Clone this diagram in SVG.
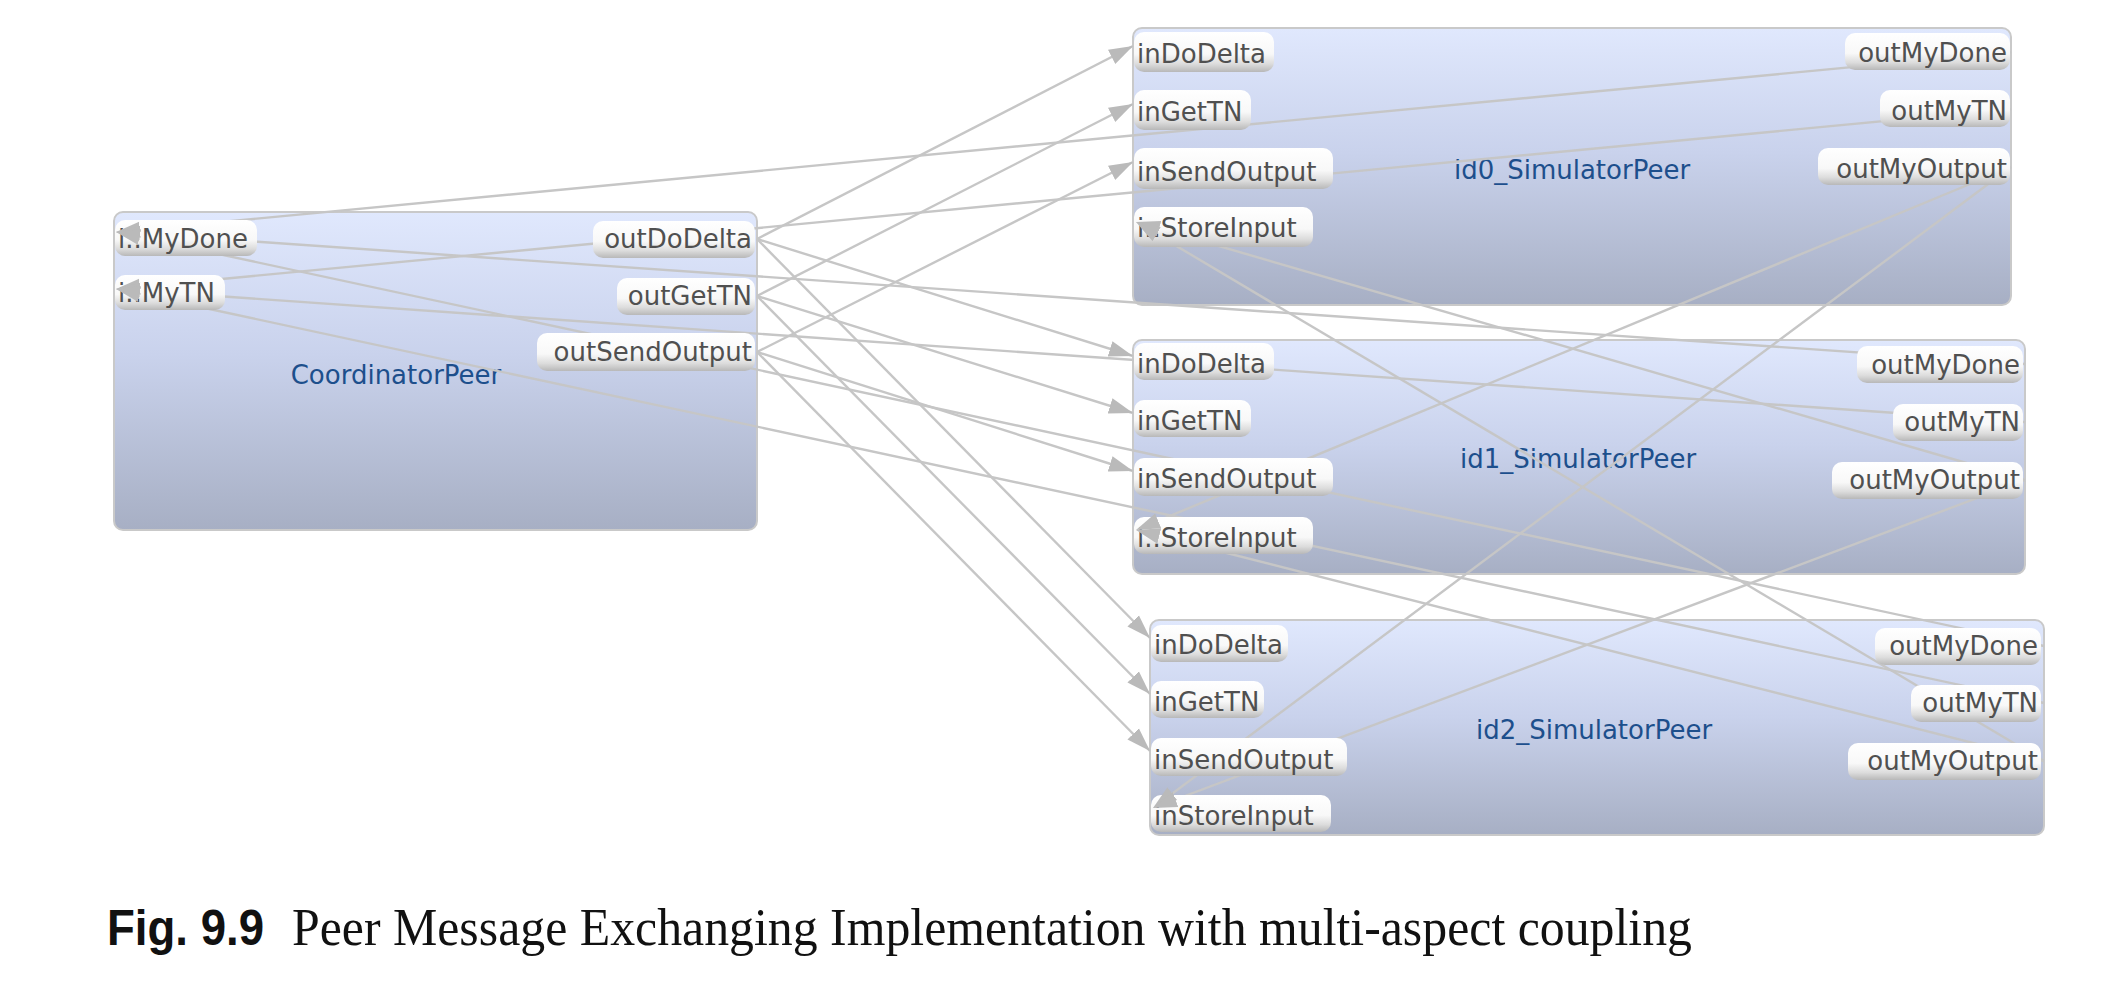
<svg xmlns="http://www.w3.org/2000/svg" width="2128" height="983" viewBox="0 0 2128 983">
<defs>
<linearGradient id="boxg" x1="0" y1="0" x2="0" y2="1">
<stop offset="0" stop-color="#e0e8fd"/>
<stop offset="0.45" stop-color="#c9d2ec"/>
<stop offset="1" stop-color="#a7afc4"/>
</linearGradient>
<linearGradient id="pillg" x1="0" y1="0" x2="0" y2="1">
<stop offset="0" stop-color="#ffffff"/>
<stop offset="0.55" stop-color="#f8f8f8"/>
<stop offset="0.8" stop-color="#dcdcdc"/>
<stop offset="1" stop-color="#b8b8b8"/>
</linearGradient>
<marker id="ah" markerUnits="userSpaceOnUse" markerWidth="26" markerHeight="18" refX="24" refY="9" orient="auto">
<path d="M0,1 L24,9 L0,17 z" fill="#bababa"/>
</marker>
</defs>
<style>
.box{fill:url(#boxg);stroke:#c9c9c9;stroke-width:2}
.title{font-family:"DejaVu Sans",Verdana,sans-serif;font-size:26px;fill:#1d4f8c;text-anchor:middle}
.pill{fill:url(#pillg)}
.pt{font-family:"DejaVu Sans",Verdana,sans-serif;font-size:26px;fill:#505050}
.r{text-anchor:end}
.ln{fill:none;stroke:#c6c6c6;stroke-width:2.4}
.hd{fill:none;stroke:none;marker-end:url(#ah)}
.cap{font-family:"Liberation Serif","Times New Roman",serif;font-size:53px;fill:#111}
.capb{font-family:"Liberation Sans",Arial,sans-serif;font-weight:bold;font-size:50px;fill:#111}
</style>
<rect width="2128" height="983" fill="#ffffff"/>

<g id="node-CoordinatorPeer">
<rect class="box" x="114" y="212" width="643" height="318" rx="9"/>
<text class="title" x="396" y="384">CoordinatorPeer</text>
</g>
<g id="node-id0_SimulatorPeer">
<rect class="box" x="1133" y="28" width="878" height="277" rx="9"/>
<text class="title" x="1572" y="179">id0_SimulatorPeer</text>
</g>
<g id="node-id1_SimulatorPeer">
<rect class="box" x="1133" y="340" width="892" height="234" rx="9"/>
<text class="title" x="1578" y="468">id1_SimulatorPeer</text>
</g>
<g id="node-id2_SimulatorPeer">
<rect class="box" x="1150" y="620" width="894" height="215" rx="9"/>
<text class="title" x="1594" y="739">id2_SimulatorPeer</text>
</g>

<g id="connectors">
<path class="ln" d="M757,239 L1133,46"/>
<path class="ln" d="M757,239 L1133,356"/>
<path class="ln" d="M757,239 L1150,638"/>
<path class="ln" d="M757,296 L1133,104"/>
<path class="ln" d="M757,296 L1133,413"/>
<path class="ln" d="M757,296 L1150,694"/>
<path class="ln" d="M757,352 L1133,162"/>
<path class="ln" d="M757,352 L1133,471"/>
<path class="ln" d="M757,352 L1150,751"/>
<path class="ln" d="M2011,52 L116,232"/>
<path class="ln" d="M2025,364 L116,232"/>
<path class="ln" d="M2044,646 L116,232"/>
<path class="ln" d="M2011,109 L116,289"/>
<path class="ln" d="M2025,422 L116,289"/>
<path class="ln" d="M2044,703 L116,289"/>
<path class="ln" d="M2011,167 L1136,530"/>
<path class="ln" d="M2011,167 L1153,808"/>
<path class="ln" d="M2025,480 L1136,222"/>
<path class="ln" d="M2025,480 L1153,808"/>
<path class="ln" d="M2044,761 L1136,222"/>
<path class="ln" d="M2044,761 L1136,530"/>
</g>

<g id="ports-CoordinatorPeer">
<rect class="pill" x="115" y="220" width="142" height="36" rx="10"/>
<text class="pt" x="118" y="248">i..MyDone</text>
<rect class="pill" x="115" y="275" width="110" height="35" rx="10"/>
<text class="pt" x="118" y="302">i..MyTN</text>
<rect class="pill" x="593" y="221" width="162" height="37" rx="10"/>
<text class="pt r" x="752" y="248">outDoDelta</text>
<rect class="pill" x="617" y="278" width="138" height="37" rx="10"/>
<text class="pt r" x="752" y="305">outGetTN</text>
<rect class="pill" x="537" y="333" width="218" height="38" rx="10"/>
<text class="pt r" x="752" y="361">outSendOutput</text>
</g>

<g id="ports-id0_SimulatorPeer">
<rect class="pill" x="1134" y="32" width="140" height="40" rx="10"/>
<text class="pt" x="1137" y="63">inDoDelta</text>
<rect class="pill" x="1134" y="90" width="117" height="40" rx="10"/>
<text class="pt" x="1137" y="121">inGetTN</text>
<rect class="pill" x="1134" y="148" width="199" height="41" rx="10"/>
<text class="pt" x="1137" y="181">inSendOutput</text>
<rect class="pill" x="1134" y="207" width="179" height="40" rx="10"/>
<text class="pt" x="1137" y="237">i..StoreInput</text>
<rect class="pill" x="1845" y="33" width="165" height="37" rx="10"/>
<text class="pt r" x="2007" y="62">outMyDone</text>
<rect class="pill" x="1880" y="90" width="130" height="37" rx="10"/>
<text class="pt r" x="2007" y="120">outMyTN</text>
<rect class="pill" x="1818" y="148" width="192" height="37" rx="10"/>
<text class="pt r" x="2007" y="178">outMyOutput</text>
</g>

<g id="ports-id1_SimulatorPeer">
<rect class="pill" x="1134" y="343" width="140" height="37" rx="10"/>
<text class="pt" x="1137" y="373">inDoDelta</text>
<rect class="pill" x="1134" y="400" width="117" height="37" rx="10"/>
<text class="pt" x="1137" y="430">inGetTN</text>
<rect class="pill" x="1134" y="458" width="199" height="38" rx="10"/>
<text class="pt" x="1137" y="488">inSendOutput</text>
<rect class="pill" x="1134" y="517" width="179" height="37" rx="10"/>
<text class="pt" x="1137" y="547">i..StoreInput</text>
<rect class="pill" x="1857" y="346" width="166" height="37" rx="10"/>
<text class="pt r" x="2020" y="374">outMyDone</text>
<rect class="pill" x="1893" y="404" width="130" height="37" rx="10"/>
<text class="pt r" x="2020" y="431">outMyTN</text>
<rect class="pill" x="1832" y="462" width="191" height="37" rx="10"/>
<text class="pt r" x="2020" y="489">outMyOutput</text>
</g>

<g id="ports-id2_SimulatorPeer">
<rect class="pill" x="1151" y="625" width="137" height="37" rx="10"/>
<text class="pt" x="1154" y="654">inDoDelta</text>
<rect class="pill" x="1151" y="681" width="113" height="37" rx="10"/>
<text class="pt" x="1154" y="711">inGetTN</text>
<rect class="pill" x="1151" y="738" width="196" height="38" rx="10"/>
<text class="pt" x="1154" y="769">inSendOutput</text>
<rect class="pill" x="1151" y="795" width="180" height="37" rx="10"/>
<text class="pt" x="1154" y="825">inStoreInput</text>
<rect class="pill" x="1875" y="628" width="166" height="37" rx="10"/>
<text class="pt r" x="2038" y="655">outMyDone</text>
<rect class="pill" x="1911" y="685" width="130" height="37" rx="10"/>
<text class="pt r" x="2038" y="712">outMyTN</text>
<rect class="pill" x="1848" y="743" width="193" height="37" rx="10"/>
<text class="pt r" x="2038" y="770">outMyOutput</text>
</g>

<g id="connector-arrowheads">
<path class="hd" d="M757,239 L1133,46"/>
<path class="hd" d="M757,239 L1133,356"/>
<path class="hd" d="M757,239 L1150,638"/>
<path class="hd" d="M757,296 L1133,104"/>
<path class="hd" d="M757,296 L1133,413"/>
<path class="hd" d="M757,296 L1150,694"/>
<path class="hd" d="M757,352 L1133,162"/>
<path class="hd" d="M757,352 L1133,471"/>
<path class="hd" d="M757,352 L1150,751"/>
<path class="hd" d="M2011,52 L116,232"/>
<path class="hd" d="M2025,364 L116,232"/>
<path class="hd" d="M2044,646 L116,232"/>
<path class="hd" d="M2011,109 L116,289"/>
<path class="hd" d="M2025,422 L116,289"/>
<path class="hd" d="M2044,703 L116,289"/>
<path class="hd" d="M2011,167 L1136,530"/>
<path class="hd" d="M2011,167 L1153,808"/>
<path class="hd" d="M2025,480 L1136,222"/>
<path class="hd" d="M2025,480 L1153,808"/>
<path class="hd" d="M2044,761 L1136,222"/>
<path class="hd" d="M2044,761 L1136,530"/>
</g>

<g id="caption">
<text class="capb" x="107" y="945" textLength="157" lengthAdjust="spacingAndGlyphs">Fig. 9.9</text>
<text class="cap" x="292" y="945" textLength="1400" lengthAdjust="spacingAndGlyphs">Peer Message Exchanging Implementation with multi-aspect coupling</text>
</g>
</svg>
